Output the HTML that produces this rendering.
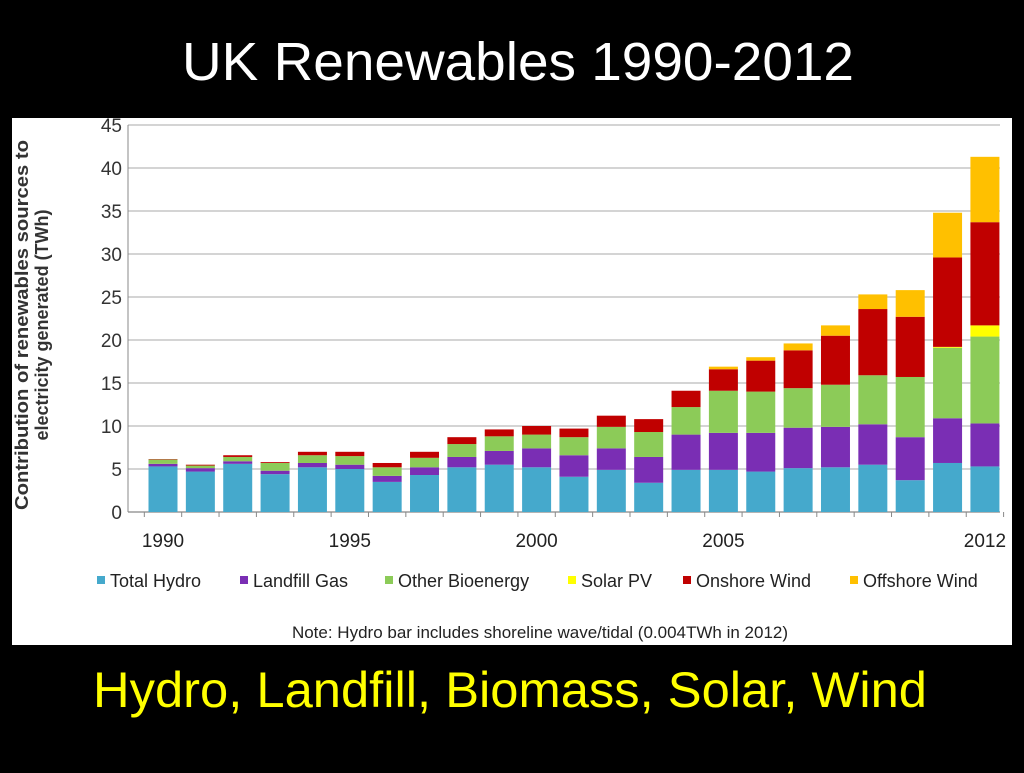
<!DOCTYPE html>
<html><head><meta charset="utf-8"><style>
body{margin:0;background:#000;width:1024px;height:768px;overflow:hidden;font-family:"Liberation Sans",sans-serif}
</style></head><body>
<svg width="1024" height="768">
<rect x="0" y="0" width="1024" height="768" fill="#000"/>
<text x="518" y="80" text-anchor="middle" fill="#fff" font-size="54" textLength="672" lengthAdjust="spacingAndGlyphs">UK Renewables 1990-2012</text>
<rect x="12" y="118" width="1000" height="527" fill="#fff"/>
<g id="grid"></g>
<g id="bars"></g>
<g id="axes"></g>
<text transform="translate(28,325) rotate(-90)" text-anchor="middle" font-size="18" font-weight="bold" fill="#333"><tspan x="0" dy="0" textLength="370" lengthAdjust="spacingAndGlyphs">Contribution of renewables sources to</tspan><tspan x="0" dy="20">electricity generated (TWh)</tspan></text>
<g id="legend" font-size="18" fill="#222"></g>
<text x="540" y="638" text-anchor="middle" font-size="17" fill="#222">Note: Hydro bar includes shoreline wave/tidal (0.004TWh in 2012)</text>
<text x="510" y="707" text-anchor="middle" fill="#ffff00" font-size="50" textLength="834" lengthAdjust="spacingAndGlyphs">Hydro, Landfill, Biomass, Solar, Wind</text>
</svg>
<script>
const years=[1990,1991,1992,1993,1994,1995,1996,1997,1998,1999,2000,2001,2002,2003,2004,2005,2006,2007,2008,2009,2010,2011,2012];
const hydro=[5.3,4.7,5.6,4.4,5.2,5.0,3.5,4.3,5.2,5.5,5.2,4.1,4.9,3.4,4.9,4.9,4.7,5.1,5.2,5.5,3.7,5.7,5.3];
const landfill=[0.3,0.4,0.3,0.4,0.5,0.5,0.7,0.9,1.2,1.6,2.2,2.5,2.5,3.0,4.1,4.3,4.5,4.7,4.7,4.7,5.0,5.2,5.0];
const bio=[0.5,0.3,0.5,0.9,0.9,1.0,1.0,1.1,1.5,1.7,1.6,2.1,2.5,2.9,3.2,4.9,4.8,4.6,4.9,5.7,7.0,8.2,10.1];
const solar=[0,0,0,0,0,0,0,0,0,0,0,0,0,0,0,0,0,0,0,0,0,0.1,1.3];
const onshore=[0.05,0.1,0.2,0.1,0.4,0.5,0.5,0.7,0.8,0.8,1.0,1.0,1.3,1.5,1.9,2.5,3.6,4.4,5.7,7.7,7.0,10.4,12.0];
const offshore=[0,0,0,0,0,0,0,0,0,0,0,0,0,0,0,0.3,0.4,0.8,1.2,1.7,3.1,5.2,7.6];
const yTicks=[0,5,10,15,20,25,30,35,40,45];
const xLabels=["1990","1995","2000","2005","2012"];
const xLabelYears=[1990,1995,2000,2005,2012];
const seriesNames=["Total Hydro","Landfill Gas","Other Bioenergy","Solar PV","Onshore Wind","Offshore Wind"];
const colors=["#45a9cc","#7a2eb4","#8ccb58","#ffff00","#c00000","#ffc000"];
const series=[hydro,landfill,bio,solar,onshore,offshore];
const NS="http://www.w3.org/2000/svg";
const y0=512,pxu=8.6,x0=163,step=37.36,bw=29;
const ys=v=>y0-v*pxu, xs=i=>x0+i*step;
function mk(t,a,p){const e=document.createElementNS(NS,t);for(const k in a)e.setAttribute(k,a[k]);p.appendChild(e);return e;}
const grid=document.getElementById('grid');
yTicks.forEach(t=>{
  const l=mk('line',{x1:128,x2:1000,y1:ys(t),y2:ys(t),stroke:t===0?'#888':'#bbb','stroke-width':1.2},grid);
  
  
  const tx=mk('text',{x:122,y:ys(t)+7,'text-anchor':'end','font-size':19,fill:'#333'},grid);
  tx.textContent=t;
  
  
});
const ax=document.getElementById('axes');
mk('line',{x1:128,x2:128,y1:ys(45),y2:y0,stroke:'#888'},ax);
for(let i=0;i<=years.length;i++){mk('line',{x1:x0-step/2+i*step,x2:x0-step/2+i*step,y1:y0,y2:y0+5,stroke:'#888'},ax);}
xLabelYears.forEach((yr,k)=>{
  const tx=mk('text',{x:xs(years.indexOf(yr)),y:547,'text-anchor':'middle','font-size':19,fill:'#222'},ax);
  tx.textContent=xLabels[k];
  
  
});
const bars=document.getElementById('bars');
years.forEach((yr,i)=>{
  let acc=0;
  series.forEach((s,j)=>{
    const v=s[i]; if(v<=0){return;}
    const r=mk('rect',{x:xs(i)-bw/2,y:ys(acc+v),width:bw,height:v*pxu,fill:colors[j]},bars);
    
    
    acc+=v;
  });
});
const lg=document.getElementById('legend');
const lx=[97,240,385,568,683,850];
seriesNames.forEach((n,j)=>{
  const g=mk('g',{},lg);
  
  
  mk('rect',{x:lx[j],y:576,width:8,height:8,fill:colors[j]},g);
  const t=mk('text',{x:lx[j]+13,y:587},g);t.textContent=n;
});
</script>
</body></html>
